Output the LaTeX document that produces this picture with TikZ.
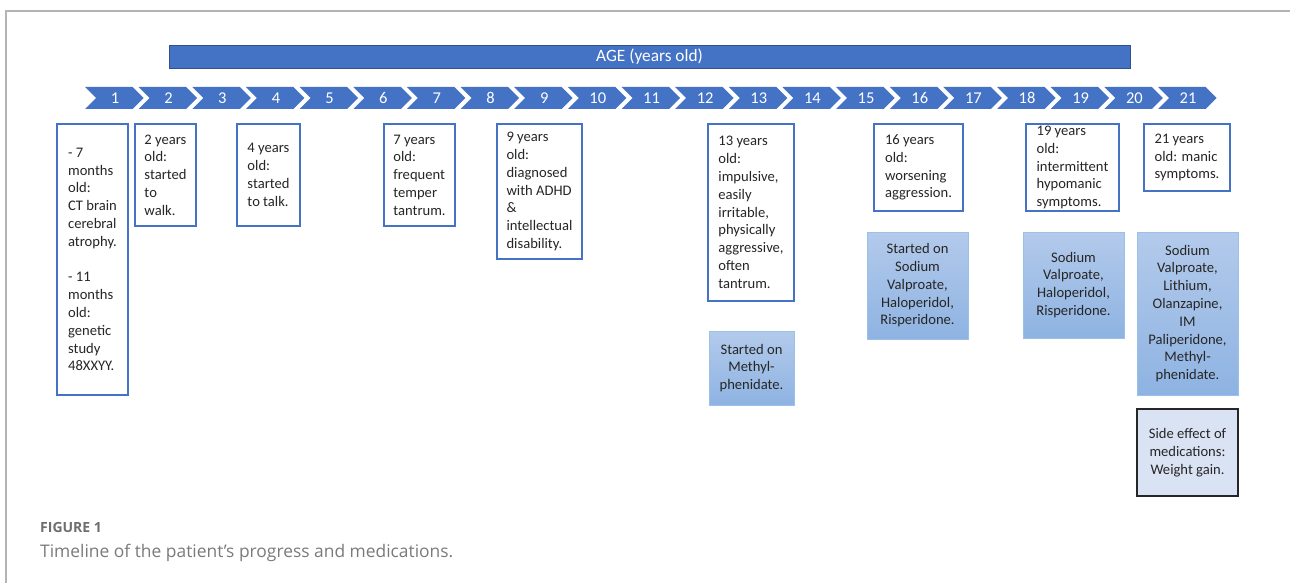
\documentclass[tikz,border=0pt]{standalone}
\usepackage{fontspec}
\setmainfont{Carlito}
\newfontfamily\capfont{Open Sans}
\definecolor{obl}{HTML}{4472C4}
\definecolor{obd}{HTML}{2F528F}
\definecolor{txt}{HTML}{262626}
\definecolor{mtop}{HTML}{B3CAEB}
\definecolor{mbot}{HTML}{8EB3E2}
\definecolor{mbor}{HTML}{9CC1E8}
\definecolor{sefill}{HTML}{DAE3F3}
\definecolor{framegrey}{HTML}{B4B4B4}
\definecolor{capgrey}{HTML}{7A7A7A}
\begin{document}
\begin{tikzpicture}[x=1pt,y=-1pt,
  every node/.style={font=\fontsize{14.6}{17.8}\selectfont, text=txt},
  ebox/.style={draw=obl, line width=1.5pt, fill=white, align=left, inner sep=0pt},
  mbox/.style={draw=mbor, line width=1pt, top color=mtop, bottom color=mbot, align=center, inner sep=0pt},
  sebox/.style={draw=black!85, line width=1.8pt, fill=sefill, align=center, inner sep=0pt},
  chevnum/.style={text=white, inner sep=0pt, font=\fontsize{16.5}{18}\selectfont}]
\useasboundingbox (0,0) rectangle (1290,583);
\draw[framegrey, line width=1.2pt] (6,583) -- (6,11) -- (1290,11);
% age bar
\node[fill=obl, draw=obd, line width=0.8pt, minimum width=961pt, minimum height=23pt, inner sep=0pt, text=white, font=\fontsize{17.3}{19}\selectfont] (age) at (649.5,56.5) {AGE (years old)};
% chevrons
\foreach \i in {1,...,21} {
  \pgfmathsetmacro\xo{85+(\i-1)*53.65}
  \fill[obl] (\xo,87) -- ++(47.5,0) -- ++(11,11) -- ++(-11,11) -- ++(-47.5,0) -- ++(11,-11) -- cycle;
  \node[chevnum] (c\i) at (\xo+30,98) {\i};
}
% event boxes
\node[ebox, minimum width=71pt, minimum height=271pt] (bA) at (92.5,259.5) {- 7\\months\\old:\\CT brain\\cerebral\\atrophy.\\[17.8pt]- 11\\months\\old:\\genetic\\study\\48XXYY.};
\node[ebox, minimum width=61pt, minimum height=102pt] (bB) at (165.5,175) {2 years\\old:\\started\\to\\walk.};
\node[ebox, minimum width=63pt, minimum height=102pt] (bC) at (268.5,175) {4 years\\old:\\started\\to talk.};
\node[ebox, minimum width=71pt, minimum height=102pt] (bD) at (419.5,175) {7 years\\old:\\frequent\\temper\\tantrum.};
\node[ebox, minimum width=85pt, minimum height=135pt] (bE) at (539.5,191.5) {9 years\\old:\\diagnosed\\with ADHD\\\&\\intellectual\\disability.};
\node[ebox, minimum width=86pt, minimum height=177pt] (bF) at (751,212.5) {13 years\\old:\\impulsive,\\easily\\irritable,\\physically\\aggressive,\\often\\tantrum.};
\node[ebox, minimum width=89pt, minimum height=87pt] (bG) at (918.5,167.5) {16 years\\old:\\worsening\\aggression.};
\node[ebox, minimum width=93pt, minimum height=87pt] (bH) at (1072.5,167.5) {19 years\\old:\\intermittent\\hypomanic\\symptoms.};
\node[ebox, minimum width=86pt, minimum height=67pt] (bI) at (1187,157.5) {21 years\\old: manic\\symptoms.};
% medication boxes
\node[mbox, minimum width=85pt, minimum height=74pt] (m1) at (751.5,368) {Started on\\Methyl-\\phenidate.};
\node[mbox, minimum width=101pt, minimum height=107pt] (m2) at (917.5,285.5) {Started on\\Sodium\\Valproate,\\Haloperidol,\\Risperidone.};
\node[mbox, minimum width=101pt, minimum height=106pt] (m3) at (1073.5,285) {Sodium\\Valproate,\\Haloperidol,\\Risperidone.};
\node[mbox, minimum width=101pt, minimum height=163pt] (m4) at (1187.5,313.5) {Sodium\\Valproate,\\Lithium,\\Olanzapine,\\IM\\Paliperidone,\\Methyl-\\phenidate.};
\node[sebox, minimum width=101pt, minimum height=87pt] (se) at (1187.5,452.5) {Side effect of\\medications:\\Weight gain.};
% caption
\node[anchor=base west, inner sep=0pt, text=capgrey!90!black, font=\capfont\bfseries\fontsize{14}{16}\selectfont] (fig) at (40,532) {FIGURE 1};
\node[anchor=base west, inner sep=0pt, text=capgrey, font=\capfont\fontsize{17.4}{20}\selectfont] (cap) at (40,557) {Timeline of the patient’s progress and medications.};
\end{tikzpicture}
\end{document}
